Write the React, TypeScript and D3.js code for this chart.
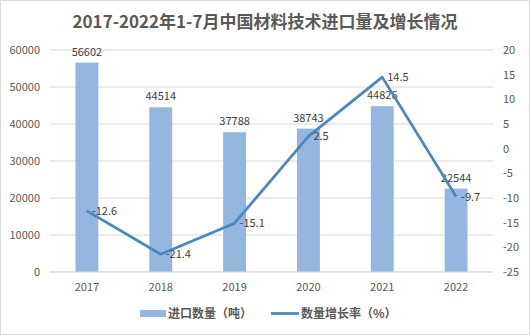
import React from "react";
import * as d3 from "d3";

const years = ["2017", "2018", "2019", "2020", "2021", "2022"];
const importQty = [56602, 44514, 37788, 38743, 44826, 22544];
const growthRate = [-12.6, -21.4, -15.1, 2.5, 14.5, -9.7];
const leftTicks = [0, 10000, 20000, 30000, 40000, 50000, 60000];
const rightTicks = [-25, -20, -15, -10, -5, 0, 5, 10, 15, 20];
const title = "2017-2022年1-7月中国材料技术进口量及增长情况";
const legendBar = "进口数量（吨）";
const legendLine = "数量增长率（%）";

const W = 530;
const H = 335;
const font = "'Noto Sans CJK SC', 'Noto Sans', sans-serif";

export default function App() {
  const x = d3.scaleBand<string>().domain(years).range([50, 493]).paddingInner(0.69).paddingOuter(0.345);
  const yL = d3.scaleLinear().domain([0, 60000]).range([272, 50]);
  const yR = d3.scaleLinear().domain([-25, 20]).range([272, 50]);
  const cx = (d: string) => (x(d) as number) + x.bandwidth() / 2;
  const line = d3
    .line<number>()
    .x((_, i) => cx(years[i]))
    .y((d) => yR(d));

  return (
    <div style={{ position: "fixed", left: 0, top: 0 }}>
      <svg width={W} height={H} style={{ display: "block", background: "#fff" }}>
        <rect x={0.5} y={0.5} width={W - 1} height={H - 1} fill="#fff" stroke="#d9d9d9" />
        <text x={W / 2} y={28} textAnchor="middle" fontFamily={font} fontWeight="bold" fontSize={17} fill="#595959">
          {title}
        </text>
        {leftTicks.map((t) => (
          <g key={t}>
            <line x1={50} x2={493} y1={yL(t)} y2={yL(t)} stroke="#d9d9d9" strokeWidth={1} />
            <text x={40} y={yL(t) + 4} textAnchor="end" fontFamily={font} fontSize={11} fill="#595959">
              {t}
            </text>
          </g>
        ))}
        {rightTicks.map((t) => (
          <text key={t} x={503} y={yR(t) + 4} textAnchor="start" fontFamily={font} fontSize={11} fill="#595959">
            {t}
          </text>
        ))}
        {years.map((yv, i) => (
          <g key={yv}>
            <rect x={x(yv)} y={yL(importQty[i])} width={x.bandwidth()} height={yL(0) - yL(importQty[i])} fill="#95b7df" />
            <text x={cx(yv)} y={yL(importQty[i]) - 7} textAnchor="middle" fontFamily={font} fontSize={11} fill="#404040">
              {importQty[i]}
            </text>
            <text x={cx(yv)} y={291} textAnchor="middle" fontFamily={font} fontSize={11} fill="#595959">
              {yv}
            </text>
          </g>
        ))}
        <line x1={50} x2={493} y1={272} y2={272} stroke="#d9d9d9" strokeWidth={1} />
        <path d={line(growthRate) || ""} fill="none" stroke="#4a86c0" strokeWidth={2.75} strokeLinejoin="round" />
        {years.map((yv, i) => (
          <text key={"r" + yv} x={cx(yv) + 5} y={yR(growthRate[i]) + 4} fontFamily={font} fontSize={11} fill="#404040">
            {growthRate[i]}
          </text>
        ))}
        <rect x={140} y={310} width={26} height={7} fill="#95b7df" />
        <text x={168} y={318} fontFamily={font} fontWeight="bold" fontSize={12} fill="#595959">
          {legendBar}
        </text>
        <line x1={271} x2={299} y1={313.5} y2={313.5} stroke="#4a86c0" strokeWidth={2.75} />
        <text x={301} y={318} fontFamily={font} fontWeight="bold" fontSize={12} fill="#595959">
          {legendLine}
        </text>
      </svg>
    </div>
  );
}
